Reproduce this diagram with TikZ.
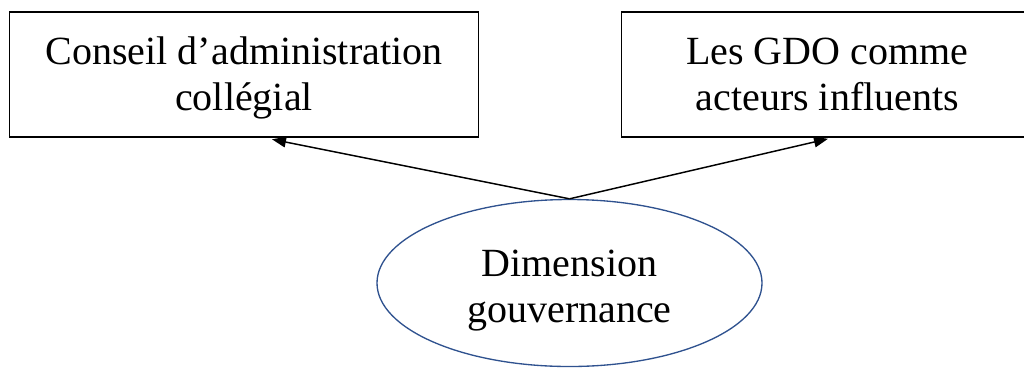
\documentclass[tikz,border=0pt]{standalone}
\usepackage{fontspec}
\setmainfont{Liberation Serif}
\usetikzlibrary{arrows.meta,shapes.geometric,calc}
\tikzset{
  txt/.style={font=\fontsize{30pt}{34.5pt}\selectfont, align=center, inner sep=0pt},
  boxnode/.style={txt, draw=black, line width=1.2pt},
  ovalnode/.style={txt, ellipse, draw={rgb,255:red,47;green,82;blue,143}, line width=1pt,
     minimum width=288.75pt, minimum height=125.25pt},
  conn/.style={draw=black, line width=1.1pt, -{Triangle[length=10.5pt,width=8pt]}}
}
\begin{document}
\begin{tikzpicture}[x=0.75pt,y=-0.75pt]
\useasboundingbox (0,0) rectangle (1024,369);
\clip (0,0) rectangle (1024,369);
\node[boxnode, minimum width=351.75pt, text height=73.5pt, text depth=20.25pt]
  (L) at (244,74.5) {Conseil d’administration\\collégial};
\node[boxnode, minimum width=308.6pt, text height=73.5pt, text depth=20.25pt]
  (R) at (827.25,74.5) {Les GDO comme\\acteurs influents};
\node[ovalnode, text height=67.5pt, text depth=9pt]
  (E) at (569.5,283) {Dimension\\gouvernance};
\coordinate (lt) at ($(L.south)+(28,1.5)$);
\coordinate (rt) at ($(R.south)+(0.75,1)$);
\draw[conn] (E.north) -- (lt);
\draw[conn] (E.north) -- (rt);
\end{tikzpicture}
\end{document}
